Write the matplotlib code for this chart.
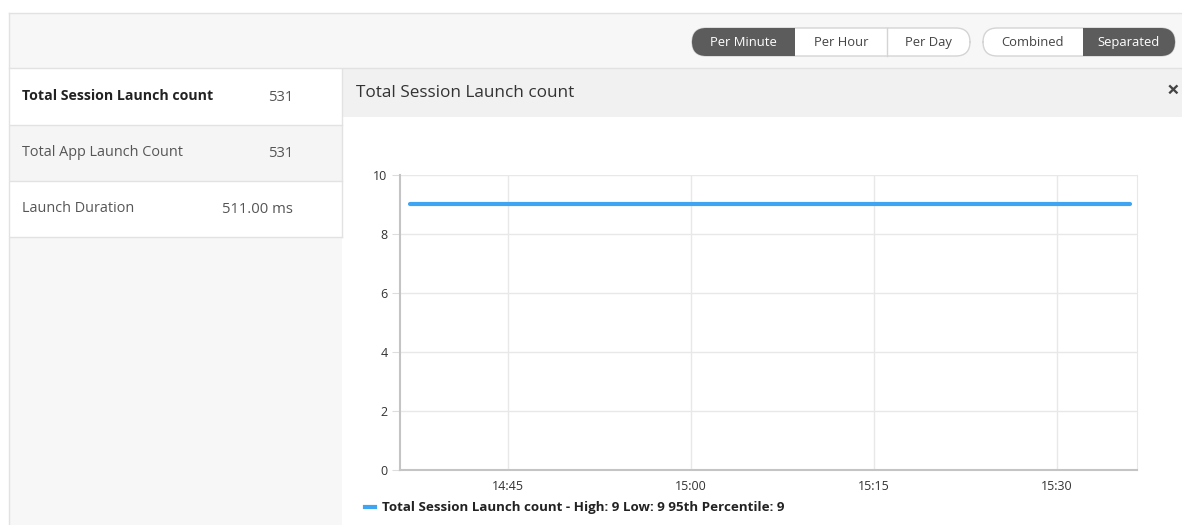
import pandas as pd
import matplotlib
matplotlib.use("Agg")
import matplotlib.pyplot as plt
from matplotlib.patches import Rectangle, FancyBboxPatch

plt.rcParams['font.family'] = ['Open Sans', 'DejaVu Sans']

# dados do gráfico
horarios = pd.date_range('2020-01-01 14:37', '2020-01-01 15:36', freq='min')
contagem = [9] * len(horarios)
ticks_x = ['14:45', '15:00', '15:15', '15:30']
ticks_y = [0, 2, 4, 6, 8, 10]

metricas = ['Total Session Launch count', 'Total App Launch Count', 'Launch Duration']
valores = ['531', '531', '511.00 ms']

botoes_tempo = ['Per Minute', 'Per Hour', 'Per Day']
botoes_modo = ['Combined', 'Separated']

titulo = 'Total Session Launch count'
legenda = 'Total Session Launch count - High: 9 Low: 9 95th Percentile: 9'

W, H = 1182, 525
fig = plt.figure(figsize=(W / 100, H / 100), dpi=100)
fig.patch.set_facecolor('white')


def fx(x):
    return x / W


def fy(y):
    return 1 - y / H


def caixa(x0, y0, x1, y1, cor, borda=None, lw=1.0, z=0):
    r = Rectangle((fx(x0), fy(y1)), fx(x1) - fx(x0), fy(y0) - fy(y1),
                  transform=fig.transFigure, facecolor=cor,
                  edgecolor=borda if borda else 'none', linewidth=lw, zorder=z)
    fig.add_artist(r)


def arredondada(x0, y0, x1, y1, cor, borda='none', z=0):
    b = FancyBboxPatch((fx(x0), fy(y1)), fx(x1) - fx(x0), fy(y0) - fy(y1),
                       boxstyle='round,pad=0,rounding_size=0.012', transform=fig.transFigure,
                       facecolor=cor, edgecolor=borda, linewidth=1, mutation_aspect=W / H,
                       zorder=z)
    fig.add_artist(b)


def linha(x0, y0, x1, y1, cor='#e2e2e2', lw=1.0):
    fig.add_artist(plt.Line2D([fx(x0), fx(x1)], [fy(y0), fy(y1)],
                              transform=fig.transFigure, color=cor, linewidth=lw))


# barra superior
caixa(9, 13, W, 68, '#f7f7f7')
linha(9, 13, W, 13)
linha(9, 68, W, 68)
linha(9, 13, 9, H)

# botões
limites_tempo = [692, 795, 887, 970]
limites_modo = [983, 1083, 1175]
for limites, nomes, ativo in [(limites_tempo, botoes_tempo, 0), (limites_modo, botoes_modo, 1)]:
    arredondada(limites[0], 28, limites[-1], 56, 'white', '#d4d4d4')
    for i, nome in enumerate(nomes):
        x0, x1 = limites[i], limites[i + 1]
        if i == ativo:
            arredondada(x0, 28, x1, 56, '#5c5c5c', z=1)
            if i == 0:
                caixa((x0 + x1) / 2, 28, x1, 56, '#5c5c5c', z=1)
            else:
                caixa(x0, 28, (x0 + x1) / 2, 56, '#5c5c5c', z=1)
            cor_txt = 'white'
        else:
            cor_txt = '#444444'
            if i > 0 and i - 1 != ativo:
                linha(x0, 28, x0, 56, '#d4d4d4')
        fig.text(fx((x0 + x1) / 2), fy(42.5), nome, ha='center', va='center',
                 fontsize=9.4, color=cor_txt, zorder=2)

# painel da esquerda
caixa(10, 237, 342, H, '#f7f7f7')
fundos = ['white', '#f5f5f5', 'white']
topos = [69, 125, 181, 237]
for i, nome in enumerate(metricas):
    caixa(10, topos[i], 342, topos[i + 1], fundos[i])
    linha(10, topos[i + 1], 342, topos[i + 1])
    yc = (topos[i] + topos[i + 1]) / 2 - 1
    fig.text(fx(22), fy(yc), nome, ha='left', va='center',
             fontsize=10.2 if i == 0 else 10.4,
             color='#222222' if i == 0 else '#555555',
             fontweight='bold' if i == 0 else 'normal')
    fig.text(fx(293), fy(yc + 1.5), valores[i], ha='right', va='center',
             fontsize=10.7, color='#555555')
linha(342, 69, 342, 237)

# painel do gráfico
caixa(343, 69, W, 117, '#f1f1f1')
fig.text(fx(356), fy(93), titulo, ha='left', va='center', fontsize=12.3, color='#333333')
fig.text(fx(1173), fy(91), '×', ha='center', va='center', fontsize=16,
         fontweight='bold', color='#444444')

ax = fig.add_axes([fx(400), fy(470), fx(1137) - fx(400), fy(175) - fy(470)])
ax.plot(horarios, contagem, color='#3fa4f2', linewidth=3, solid_capstyle='round')

ax.set_ylim(0, 10)
ax.set_yticks(ticks_y)
ax.set_xlim(pd.Timestamp('2020-01-01 14:36:09'), pd.Timestamp('2020-01-01 15:36:33'))
ax.set_xticks([pd.Timestamp('2020-01-01 ' + t) for t in ticks_x])
ax.set_xticklabels(ticks_x)
ax.grid(True, color='#e8e8e8', linewidth=1)
ax.set_axisbelow(True)
ax.spines['top'].set_visible(False)
ax.spines['right'].set_color('#e8e8e8')
ax.spines['left'].set_color('#c4c4c4')
ax.spines['bottom'].set_color('#c4c4c4')
ax.spines['left'].set_linewidth(1.5)
ax.spines['bottom'].set_linewidth(1.5)
ax.tick_params(axis='y', length=6, color='#dddddd', labelsize=9, labelcolor='#333333', pad=3)
ax.tick_params(axis='x', length=0, labelsize=9, labelcolor='#333333', pad=7)

# legenda
linha(365, 507, 375, 507, '#3fa4f2', lw=3)
fig.text(fx(382), fy(507), legenda, ha='left', va='center', fontsize=9.6,
         fontweight='bold', color='#222222')

fig.savefig('out.png', dpi=100)
